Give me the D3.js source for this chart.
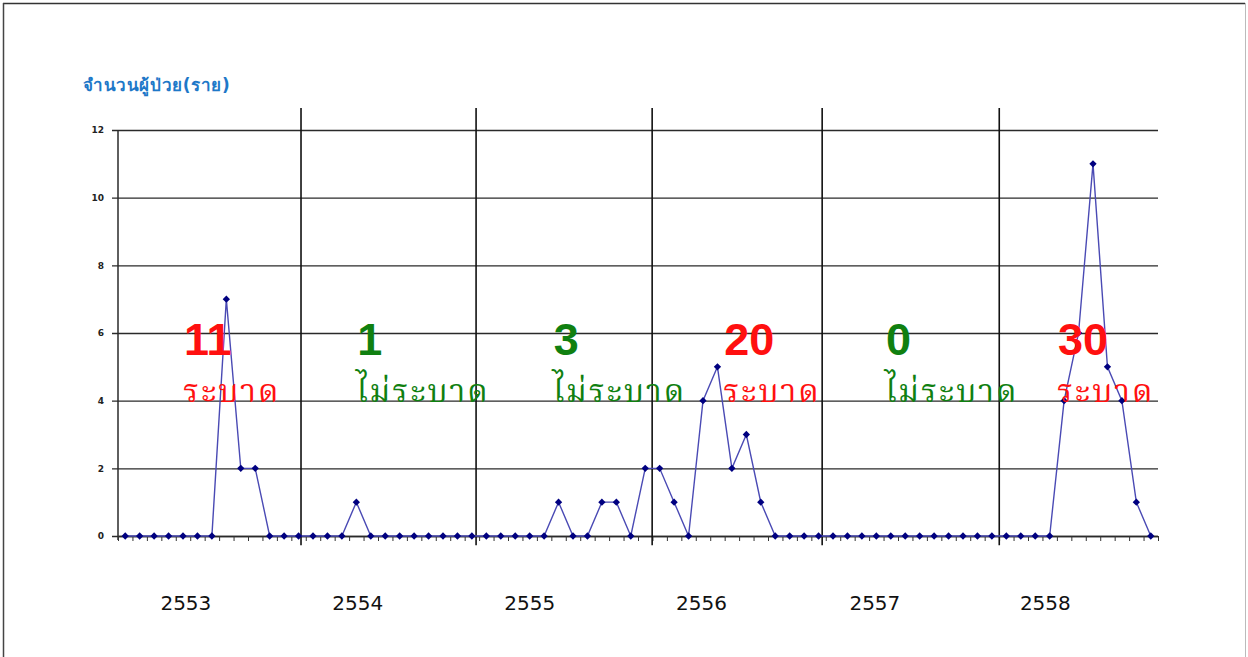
<!DOCTYPE html>
<html>
<head>
<meta charset="utf-8">
<script src="https://cdn.jsdelivr.net/npm/d3@7"></script>
<style>
  html, body { margin: 0; padding: 0; background: #fff; }
  svg { display: block; }
</style>
</head>
<body>
<svg id="chart" width="1248" height="657"></svg>
<script>
// ---------- data ----------
const years = ["2553", "2554", "2555", "2556", "2557", "2558"];
const cases2553 = [0, 0, 0, 0, 0, 0, 0, 7, 2, 2, 0, 0];
const cases2554 = [0, 0, 0, 0, 1, 0, 0, 0, 0, 0, 0, 0];
const cases2555 = [0, 0, 0, 0, 0, 0, 1, 0, 0, 1, 1, 0];
const cases2556 = [2, 2, 1, 0, 4, 5, 2, 3, 1, 0, 0, 0];
const cases2557 = [0, 0, 0, 0, 0, 0, 0, 0, 0, 0, 0, 0];
const cases2558 = [0, 0, 0, 0, 0, 4, 6, 11, 5, 4, 1, 0];
const yearTotals = ["11", "1", "3", "20", "0", "30"];
const yearStatus = ["ระบาด", "ไม่ระบาด", "ไม่ระบาด", "ระบาด", "ไม่ระบาด", "ระบาด"];
const yTicks = [0, 2, 4, 6, 8, 10, 12];
const titleText = "จำนวนผู้ป่วย(ราย)";
// positions (in month-index units) of hand-drawn year dividers, labels, annotations
const dividerPos = [12.67, 24.79, 36.98, 48.75, 61.01];
const yearLabelPos = [4.7, 16.6, 28.5, 40.4, 52.4, 64.2];
const annotPos = [4.5, 16.5, 30.1, 41.9, 53.1, 65.0];

const series = [].concat(cases2553, cases2554, cases2555, cases2556, cases2557, cases2558);

// ---------- layout ----------
const svg = d3.select("#chart");
const W = 1248, H = 657;
const pLeft = 118, pRight = 1158, pTop = 130, pBottom = 536;

const x = d3.scaleLinear().domain([0, series.length]).range([pLeft, pRight]);
const y = d3.scaleLinear().domain([0, 12]).range([pBottom, pTop]);

// frame
svg.append("rect").attr("x", 0).attr("y", 0).attr("width", W).attr("height", H).attr("fill", "#fff");
svg.append("line").attr("x1", 3).attr("x2", 1245).attr("y1", 3.5).attr("y2", 3.5).attr("stroke", "#333").attr("stroke-width", 1.5);
svg.append("line").attr("x1", 3.5).attr("x2", 3.5).attr("y1", 3).attr("y2", H).attr("stroke", "#444").attr("stroke-width", 1.5);
svg.append("line").attr("x1", 1245.5).attr("x2", 1245.5).attr("y1", 3).attr("y2", H).attr("stroke", "#bbb").attr("stroke-width", 1);

// title
svg.append("text").attr("x", 83).attr("y", 91)
  .attr("font-family", "Tahoma, 'DejaVu Sans', sans-serif").attr("font-weight", "bold")
  .attr("font-size", 17).attr("letter-spacing", 0.6).attr("fill", "#1e78c8").text(titleText);

// horizontal gridlines + left ticks
const yAxis = d3.axisLeft(y).tickValues(yTicks).tickSize(-(pRight - pLeft)).tickPadding(14)
  .tickFormat(d3.format("d"));
const gy = svg.append("g").attr("transform", `translate(${pLeft},0)`).call(yAxis);
gy.select(".domain").remove();
gy.selectAll(".tick line").attr("stroke", "#2a2a2a").attr("stroke-width", 1.3).attr("x1", -6);
gy.selectAll(".tick text").attr("font-family", "'DejaVu Sans', sans-serif").attr("font-weight", "bold")
  .attr("font-size", 9).attr("fill", "#222");

// y axis line
svg.append("line").attr("x1", pLeft).attr("x2", pLeft).attr("y1", pTop).attr("y2", pBottom + 4)
  .attr("stroke", "#2a2a2a").attr("stroke-width", 1.5);

// bottom axis with category ticks
const xAxis = d3.axisBottom(x).tickValues(d3.range(0, series.length + 1)).tickSize(5).tickFormat("");
const gx = svg.append("g").attr("transform", `translate(0,${pBottom})`).call(xAxis);
gx.select(".domain").attr("stroke", "#2a2a2a").attr("stroke-width", 1.3).attr("d", `M${pLeft},0.5H${pRight}`);
gx.selectAll(".tick line").attr("stroke", "#333").attr("stroke-width", 1);

// year dividers
svg.append("g").selectAll("line").data(dividerPos).join("line")
  .attr("x1", d => x(d)).attr("x2", d => x(d))
  .attr("y1", y(12.65)).attr("y2", y(-0.27))
  .attr("stroke", "#111").attr("stroke-width", 1.6);

// line series
const line = d3.line().x((d, i) => x(i + 0.5)).y(d => y(d));
svg.append("path").datum(series).attr("d", line)
  .attr("fill", "none").attr("stroke", "#4a4ab4").attr("stroke-width", 1.4);

// diamond markers
const diamond = d3.symbol().type(d3.symbolDiamond2).size(34);
svg.append("g").selectAll("path").data(series).join("path")
  .attr("d", diamond)
  .attr("transform", (d, i) => `translate(${x(i + 0.5)},${y(d)})`)
  .attr("fill", "#000080");

// year labels
svg.append("g").selectAll("text").data(years).join("text")
  .attr("x", (d, i) => x(yearLabelPos[i])).attr("y", 610)
  .attr("text-anchor", "middle")
  .attr("font-family", "Tahoma, 'DejaVu Sans', sans-serif").attr("font-size", 20)
  .attr("fill", "#111").text(d => d);

// annotations
const statusColor = s => s === "ระบาด" ? "#ff1010" : "#108010";
svg.append("g").selectAll("text").data(yearTotals).join("text")
  .attr("x", (d, i) => x(annotPos[i]) + 1).attr("y", 355)
  .attr("font-family", "'Liberation Sans', Arial, sans-serif").attr("font-weight", "bold")
  .attr("font-size", 45).attr("fill", (d, i) => statusColor(yearStatus[i])).text(d => d);
svg.append("g").selectAll("text").data(yearStatus).join("text")
  .attr("x", (d, i) => x(annotPos[i])).attr("y", 402)
  .attr("font-family", "'Noto Serif Thai', 'Noto Sans Thai', Garuda, sans-serif")
  .attr("font-size", 32).attr("letter-spacing", 2).attr("fill", d => statusColor(d)).text(d => d);
</script>
</body>
</html>
